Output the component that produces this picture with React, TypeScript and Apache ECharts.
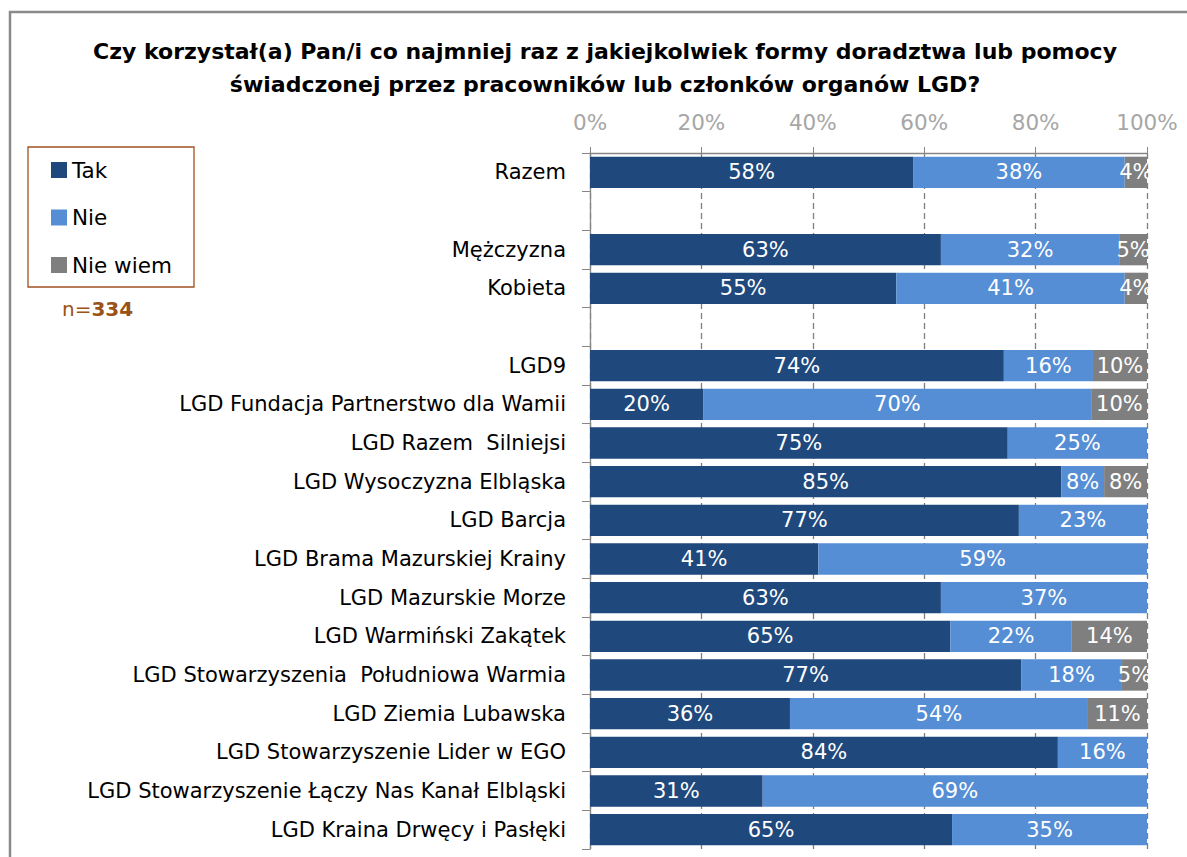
import React, { useEffect, useRef } from "react";
import * as echarts from "echarts";

const categories = [
  "Razem",
  "",
  "Mężczyzna",
  "Kobieta",
  " ",
  "LGD9",
  "LGD Fundacja Partnerstwo dla Wamii",
  "LGD Razem  Silniejsi",
  "LGD Wysoczyzna Elbląska",
  "LGD Barcja",
  "LGD Brama Mazurskiej Krainy",
  "LGD Mazurskie Morze",
  "LGD Warmiński Zakątek",
  "LGD Stowarzyszenia  Południowa Warmia",
  "LGD Ziemia Lubawska",
  "LGD Stowarzyszenie Lider w EGO",
  "LGD Stowarzyszenie Łączy Nas Kanał Elbląski",
  "LGD Kraina Drwęcy i Pasłęki",
];

const tak = [58, null, 63, 55, null, 74.3, 20.3, 75, 84.6, 77, 41, 63, 64.7, 77.4, 35.9, 84, 31, 65];
const nie = [38, null, 32, 41, null, 16, 69.8, 25, 7.7, 23, 59, 37, 21.8, 18.1, 53.5, 16, 69, 35];
const nieWiem = [4, null, 5, 4, null, 9.7, 9.9, 0, 7.7, 0, 0, 0, 13.5, 4.5, 10.6, 0, 0, 0];

const xTicks = [0, 20, 40, 60, 80, 100];

const seriesNames = ["Tak", "Nie", "Nie wiem"];
const colors = ["#1F497D", "#558ED5", "#7F7F7F"];

const FONT = "DejaVu Sans";

export default function App() {
  const ref = useRef<HTMLDivElement>(null);
  useEffect(() => {
    if (!ref.current) return;
    const chart = echarts.init(ref.current, null, { renderer: "svg" });
    const labelCfg = {
      show: true,
      position: "inside",
      color: "#ffffff",
      fontSize: 21,
      fontFamily: FONT,
      formatter: (p: any) => (p.value && p.value > 0 ? Math.round(p.value) + "%" : ""),
    };
    const datasets = [tak, nie, nieWiem];
    chart.setOption({
      animation: false,
      color: colors,
      title: {
        text: "Czy korzystał(a) Pan/i co najmniej raz z jakiejkolwiek formy doradztwa lub pomocy\nświadczonej przez pracowników lub członków organów LGD?",
        left: 600,
        textAlign: "center",
        top: 30,
        textStyle: {
          fontFamily: FONT,
          fontWeight: "bold",
          fontSize: 22,
          lineHeight: 33,
          color: "#000",
        },
      },
      legend: {
        orient: "vertical",
        left: 46,
        top: 154,
        icon: "rect",
        itemWidth: 16,
        itemHeight: 16,
        itemGap: 25.5,
        itemTextGap: 5,
        data: seriesNames,
        textStyle: { fontFamily: FONT, fontSize: 21.5, color: "#000", lineHeight: 20 },
      },
      graphic: [
        {
          type: "rect",
          shape: { x: 10, y: 12, width: 1300, height: 1000 },
          style: { fill: "none", stroke: "#8a8a8a", lineWidth: 2.5 },
          silent: true,
        },
        {
          type: "rect",
          shape: { x: 28, y: 147, width: 166, height: 140 },
          style: { fill: "none", stroke: "#A0521E", lineWidth: 1.3 },
          silent: true,
        },
        {
          type: "text",
          x: 62,
          y: 309,
          style: {
            text: "{a|n=}{b|334}",
            fontFamily: FONT,
            fill: "#9B5217",
            verticalAlign: "middle",
            rich: {
              a: { fontFamily: FONT, fontSize: 20, fontWeight: "normal", fill: "#9B5217" },
              b: { fontFamily: FONT, fontSize: 20, fontWeight: "bold", fill: "#9B5217" },
            },
          },
        },
      ],
      grid: { left: 590, right: 40, top: 153, bottom: 8, containLabel: false },
      xAxis: {
        type: "value",
        position: "top",
        min: 0,
        max: 100,
        interval: 20,
        axisLine: { show: true, lineStyle: { color: "#868686", width: 1.3 } },
        axisTick: { show: true, length: 6, lineStyle: { color: "#868686" } },
        axisLabel: {
          formatter: (v: number) => (xTicks.includes(v) ? v + "%" : ""),
          color: "#A6A6A6",
          fontSize: 21.5,
          fontFamily: FONT,
          margin: 20,
        },
        splitLine: {
          show: true,
          lineStyle: { color: "#7F7F7F", type: [6, 4], width: 1.3 },
        },
      },
      yAxis: {
        type: "category",
        inverse: true,
        data: categories,
        axisLine: { show: true, lineStyle: { color: "#868686", width: 1.3 } },
        axisTick: { show: true, length: 8, lineStyle: { color: "#868686" } },
        axisLabel: { color: "#000", fontSize: 21, fontFamily: FONT, margin: 24 },
      },
      series: seriesNames.map((name, i) => ({
        name,
        type: "bar",
        stack: "total",
        barCategoryGap: "19%",
        data: datasets[i],
        label: labelCfg,
        itemStyle: { color: colors[i] },
      })),
    });
    return () => chart.dispose();
  }, []);
  return (
    <div
      ref={ref}
      style={{ position: "absolute", left: 0, top: 0, width: 1187, height: 857, background: "#fff" }}
    />
  );
}
